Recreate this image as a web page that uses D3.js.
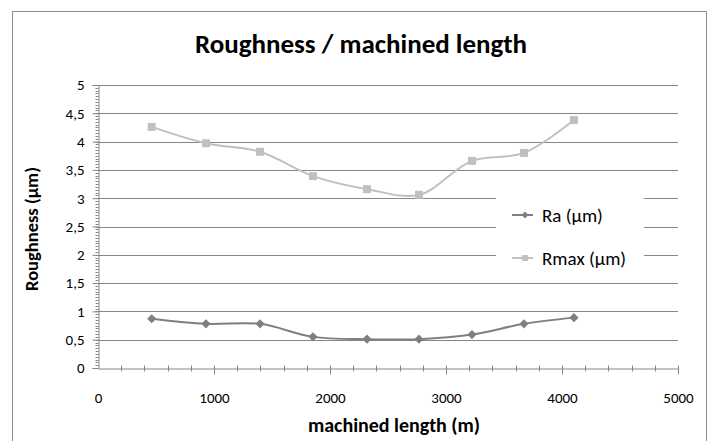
<!DOCTYPE html>
<html>
<head>
<meta charset="utf-8">
<script src="https://cdn.jsdelivr.net/npm/d3@7"></script>
<style>
  body { margin: 0; background: #fff; }
  text { font-family: Carlito, Lato, "Noto Sans", sans-serif; fill: #000; }
</style>
</head>
<body>
<div id="chart"></div>
<script>
const lengths = [463, 931, 1397, 1853, 2319, 2767, 3224, 3672, 4103];
const ra = [0.87, 0.78, 0.78, 0.55, 0.51, 0.51, 0.59, 0.78, 0.89];
const rmax = [4.26, 3.97, 3.82, 3.39, 3.16, 3.06, 3.66, 3.80, 4.38];
const xTicks = [0, 1000, 2000, 3000, 4000, 5000];
const yTicks = [0, 0.5, 1, 1.5, 2, 2.5, 3, 3.5, 4, 4.5, 5];
const seriesNames = ['Ra (µm)', 'Rmax (µm)'];

const width = 715,
  height = 441,
  gridColor = '#868686',
  fontFamily = 'Carlito, Lato, "Noto Sans", sans-serif';

const x = d3.scaleLinear().domain([0, 5000]).range([98, 678]);
const y = d3.scaleLinear().domain([0, 5]).range([368, 85]);
const fmt = (d) => String(d).replace('.', ',');

const svg = d3.select('#chart').append('svg')
    .attr('width', width)
    .attr('height', height);

// chart frame
svg.append('rect')
    .attr('x', 12.5)
    .attr('y', 11.5)
    .attr('width', 694)
    .attr('height', 440)
    .attr('fill', '#fff')
    .attr('stroke', '#8c8c8c');

svg.append('text')
    .attr('x', 361)
    .attr('y', 53)
    .attr('text-anchor', 'middle')
    .style('font-size', '27px')
    .style('font-weight', 'bold')
    .text('Roughness / machined length');

// horizontal grid
svg.append('g')
  .selectAll('line')
    .data(yTicks.slice(1))
  .enter().append('line')
    .attr('x1', x(0))
    .attr('x2', x(5000))
    .attr('y1', (d) => Math.round(y(d)) + 0.5)
    .attr('y2', (d) => Math.round(y(d)) + 0.5)
    .attr('stroke', gridColor);

// y axis with minor ticks
const yMinor = d3.range(0, 5.0001, 0.05);
const yAxisG = svg.append('g').attr('transform', `translate(${x(0) + 0.5},0)`);
yAxisG.selectAll('.minor')
    .data(yMinor)
  .enter().append('line')
    .attr('x1', -3)
    .attr('x2', 0)
    .attr('y1', (d) => Math.round(y(d)) + 0.5)
    .attr('y2', (d) => Math.round(y(d)) + 0.5)
    .attr('stroke', gridColor);
yAxisG.call(d3.axisLeft(y).tickValues(yTicks).tickSize(6).tickFormat(fmt))
    .call((g) => g.select('.domain').attr('stroke', gridColor))
    .call((g) => g.selectAll('.tick line').attr('stroke', gridColor))
    .call((g) => g.selectAll('.tick text')
      .attr('x', -14)
      .style('font-size', '15px')
      .style('font-family', fontFamily));

// x axis with minor ticks crossing the line
const xAxisG = svg.append('g').attr('transform', `translate(0,${Math.round(y(0)) + 0.5})`);
xAxisG.selectAll('.minor')
    .data(d3.range(200, 5001, 200))
  .enter().append('line')
    .attr('x1', (d) => Math.round(x(d)) + 0.5)
    .attr('x2', (d) => Math.round(x(d)) + 0.5)
    .attr('y1', -3)
    .attr('y2', (d) => (d % 1000 === 0 ? 6 : 3))
    .attr('stroke', gridColor);
xAxisG.call(d3.axisBottom(x).tickValues(xTicks).tickSize(0).tickPadding(24).tickFormat(fmt))
    .call((g) => g.select('.domain').attr('stroke', gridColor))
    .call((g) => g.selectAll('.tick text')
      .style('font-size', '15px')
      .style('font-family', fontFamily));

svg.append('text')
    .attr('transform', 'translate(38,229) rotate(-90)')
    .attr('text-anchor', 'middle')
    .style('font-size', '18.5px')
    .style('font-weight', 'bold')
    .text('Roughness (µm)');

svg.append('text')
    .attr('x', 394)
    .attr('y', 432)
    .attr('text-anchor', 'middle')
    .style('font-size', '20px')
    .style('font-weight', 'bold')
    .text('machined length (m)');

const line = d3.line()
    .x((d) => x(d[0]))
    .y((d) => y(d[1]))
    .curve(d3.curveCatmullRom.alpha(0.5));

// diamond = square turned 45 degrees
const series = [
  { name: seriesNames[0], values: d3.zip(lengths, ra), color: '#7f7f7f', rotate: 45, size: 42 },
  { name: seriesNames[1], values: d3.zip(lengths, rmax), color: '#c0c0c0', rotate: 0, size: 64 },
];

// legend box (covers grid)
const legend = svg.append('g').attr('transform', 'translate(496,190)');
legend.append('rect')
    .attr('width', 148)
    .attr('height', 89)
    .attr('fill', '#fff');

series.forEach((s, i) => {
  svg.append('path')
      .datum(s.values)
      .attr('fill', 'none')
      .attr('stroke', s.color)
      .attr('stroke-width', 2)
      .attr('d', line);

  svg.append('g')
    .selectAll('path')
      .data(s.values)
    .enter().append('path')
      .attr('transform', (d) => `translate(${x(d[0])},${y(d[1])}) rotate(${s.rotate})`)
      .attr('d', d3.symbol().type(d3.symbolSquare).size(s.size))
      .attr('fill', s.color);

  const ly = 25 + i * 43;
  legend.append('line')
      .attr('x1', 16)
      .attr('x2', 37)
      .attr('y1', ly)
      .attr('y2', ly)
      .attr('stroke', s.color)
      .attr('stroke-width', 2);
  legend.append('path')
      .attr('transform', `translate(29,${ly}) rotate(${s.rotate})`)
      .attr('d', d3.symbol().type(d3.symbolSquare).size(s.size * 0.55))
      .attr('fill', s.color);
  legend.append('text')
      .attr('x', 46)
      .attr('y', ly + 7)
      .style('font-size', '19px')
      .text(s.name);
});
</script>
</body>
</html>
